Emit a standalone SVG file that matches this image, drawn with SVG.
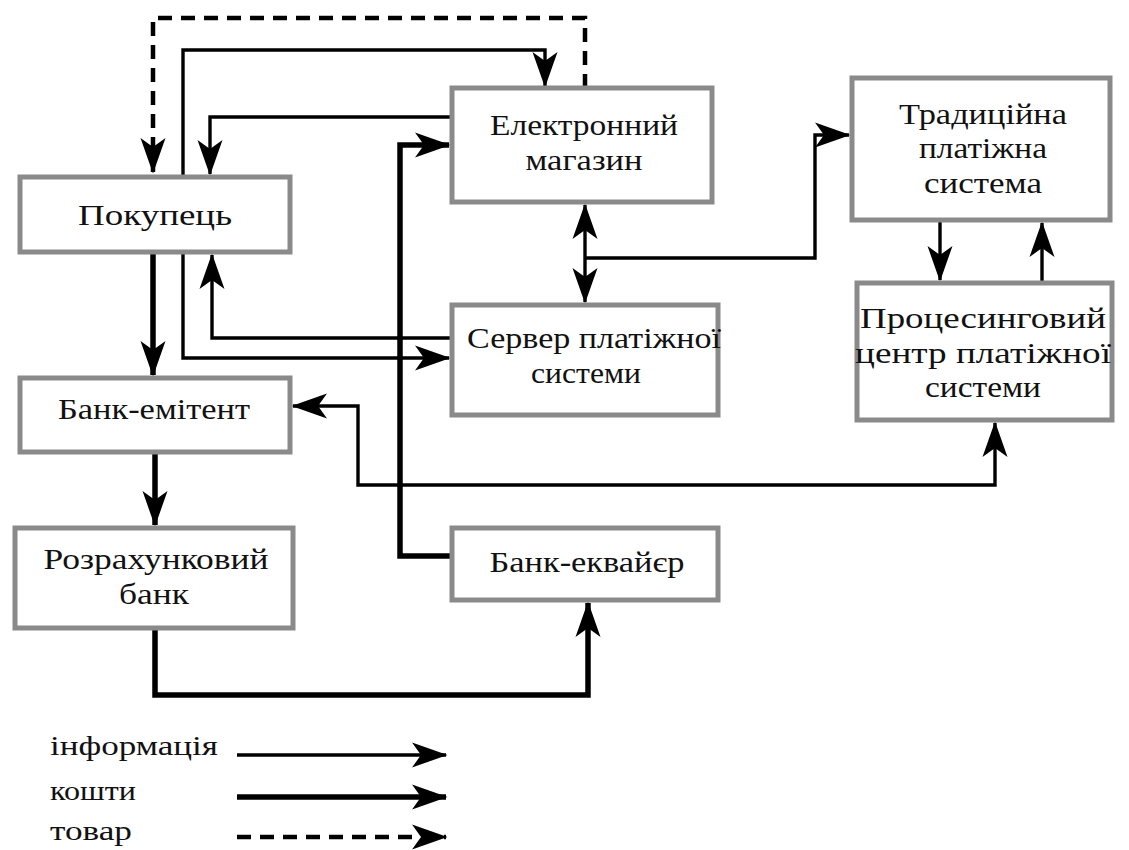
<svg xmlns="http://www.w3.org/2000/svg" width="1129" height="850" viewBox="0 0 1129 850">
<style>
.box{fill:#fff;stroke:#8a8a8a;stroke-width:5}
.t{font-family:"Liberation Serif","DejaVu Serif",serif;font-size:30px;fill:#111;text-anchor:middle}
.lt{font-family:"Liberation Serif","DejaVu Serif",serif;font-size:28px;fill:#111}
.thin{fill:none;stroke:#000;stroke-width:3.4}
.thick{fill:none;stroke:#000;stroke-width:5.5}
.dash{fill:none;stroke:#000;stroke-width:4.5;stroke-dasharray:14 9}
</style>
<defs>
<marker id="ah" markerUnits="userSpaceOnUse" markerWidth="40" markerHeight="30" viewBox="-38 -15 40 30" refX="0" refY="0" orient="auto-start-reverse">
<path d="M1.5,0 L-34,-12.5 L-25,0 L-34,12.5 Z" fill="#000"/>
</marker>
</defs>
<rect width="1129" height="850" fill="#fff"/>
<g id="connectors">
<path class="dash" d="M585,88 V18 H153 V172" marker-end="url(#ah)"/>
<path class="thin" d="M183,177 V50 H545 V86" marker-end="url(#ah)"/>
<path class="thin" d="M452,117 H210 V174" marker-end="url(#ah)"/>
<path class="thick" d="M452,556 H400 V145 H449" marker-end="url(#ah)"/>
<path class="thin" d="M585,258 V205" marker-end="url(#ah)"/>
<path class="thin" d="M585,258 V302" marker-end="url(#ah)"/>
<path class="thin" d="M585,258 H815 V135 H849" marker-end="url(#ah)"/>
<path class="thin" d="M940,220 V280" marker-end="url(#ah)"/>
<path class="thin" d="M1042,283 V223" marker-end="url(#ah)"/>
<path class="thick" d="M153,252 V375" marker-end="url(#ah)"/>
<path class="thin" d="M183,252 V358 H449" marker-end="url(#ah)"/>
<path class="thin" d="M452,338 H212 V255" marker-end="url(#ah)"/>
<path class="thin" d="M995,423 V485 H358 V406 H293" marker-start="url(#ah)" marker-end="url(#ah)"/>
<path class="thick" d="M155,452 V525" marker-end="url(#ah)"/>
<path class="thick" d="M155,628 V695 H588 V603" marker-end="url(#ah)"/>
</g>
<g id="n-pokupets"><rect class="box" x="20" y="177" width="270" height="75"/><text class="t" x="155" y="225" textLength="154" lengthAdjust="spacingAndGlyphs">Покупець</text></g>
<g id="n-magazyn"><rect class="box" x="452" y="88" width="260" height="114"/><text class="t" x="584" y="135" textLength="188" lengthAdjust="spacingAndGlyphs">Електронний</text><text class="t" x="584" y="170" textLength="117" lengthAdjust="spacingAndGlyphs">магазин</text></g>
<g id="n-tradytsiina"><rect class="box" x="852" y="78" width="258" height="142"/><text class="t" x="983" y="124" textLength="168" lengthAdjust="spacingAndGlyphs">Традиційна</text><text class="t" x="983" y="158" textLength="128" lengthAdjust="spacingAndGlyphs">платіжна</text><text class="t" x="983" y="193" textLength="118" lengthAdjust="spacingAndGlyphs">система</text></g>
<g id="n-protsesynh"><rect class="box" x="857" y="283" width="255" height="137"/><text class="t" x="983" y="328" textLength="246" lengthAdjust="spacingAndGlyphs">Процесинговий</text><text class="t" x="983" y="363" textLength="256" lengthAdjust="spacingAndGlyphs">центр платіжної</text><text class="t" x="983" y="397" textLength="116" lengthAdjust="spacingAndGlyphs">системи</text></g>
<g id="n-server"><rect class="box" x="452" y="305" width="266" height="110"/><text class="t" x="594" y="348" textLength="254" lengthAdjust="spacingAndGlyphs">Сервер платіжної</text><text class="t" x="586" y="383" textLength="110" lengthAdjust="spacingAndGlyphs">системи</text></g>
<g id="n-emitent"><rect class="box" x="20" y="378" width="270" height="74"/><text class="t" x="154" y="419" textLength="192" lengthAdjust="spacingAndGlyphs">Банк-емітент</text></g>
<g id="n-rozrakhunk"><rect class="box" x="15" y="528" width="278" height="100"/><text class="t" x="156" y="569" textLength="225" lengthAdjust="spacingAndGlyphs">Розрахунковий</text><text class="t" x="154" y="604" textLength="70" lengthAdjust="spacingAndGlyphs">банк</text></g>
<g id="n-ekvaier"><rect class="box" x="452" y="528" width="266" height="72"/><text class="t" x="587" y="572" textLength="195" lengthAdjust="spacingAndGlyphs">Банк-еквайєр</text></g>
<g id="legend">
<text class="lt" x="50" y="755" textLength="168" lengthAdjust="spacingAndGlyphs">інформація</text>
<path class="thin" d="M237,755 H446" marker-end="url(#ah)"/>
<text class="lt" x="50" y="800" textLength="86" lengthAdjust="spacingAndGlyphs">кошти</text>
<path class="thick" d="M237,797 H446" marker-end="url(#ah)"/>
<text class="lt" x="50" y="840" textLength="82" lengthAdjust="spacingAndGlyphs">товар</text>
<path class="dash" d="M237,837 H446" marker-end="url(#ah)"/>
</g>
</svg>
